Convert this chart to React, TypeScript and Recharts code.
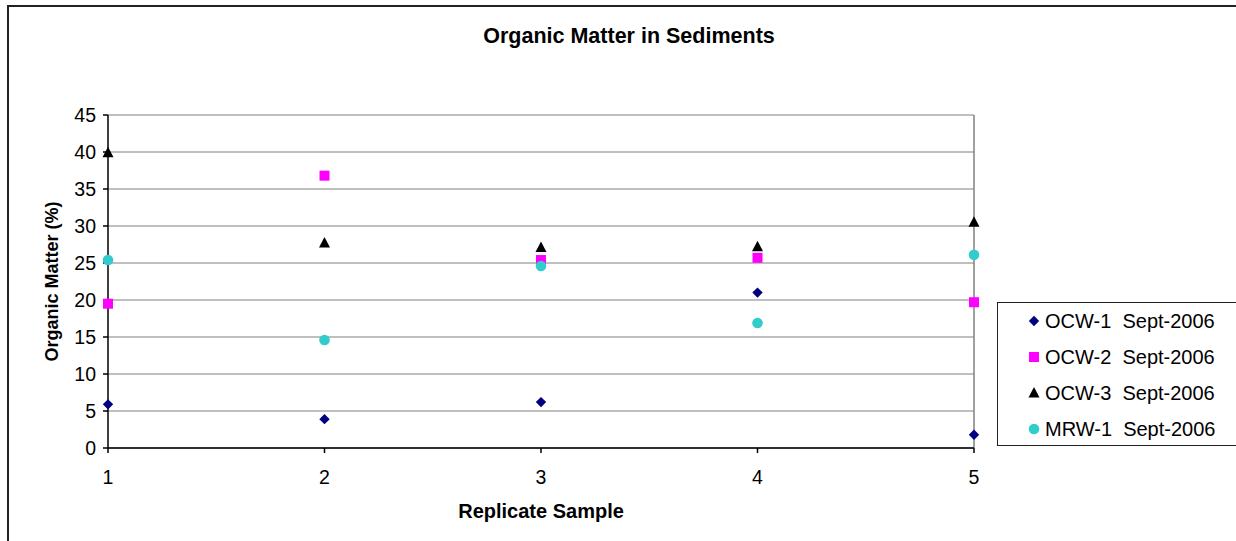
import React from "react";
import {
  ScatterChart,
  Scatter,
  XAxis,
  YAxis,
  CartesianGrid,
  ReferenceLine,
} from "recharts";

// #region Sample data
const replicates = [1, 2, 3, 4, 5];
const yTicks = [0, 5, 10, 15, 20, 25, 30, 35, 40, 45];

const ocw1 = [5.9, 3.9, 6.2, 21.0, 1.8];
const ocw2 = [19.5, 36.8, 25.4, 25.7, 19.7];
const ocw3 = [39.9, 27.7, 27.1, 27.2, 30.5];
const mrw1 = [25.4, 14.6, 24.6, 16.9, 26.1];

const toPoints = (vals: number[]) =>
  replicates.map((r, i) => ({ x: r, y: vals[i] }));

const series = [
  { name: "OCW-1  Sept-2006", data: toPoints(ocw1), color: "#000080", kind: "diamond" },
  { name: "OCW-2  Sept-2006", data: toPoints(ocw2), color: "#FF00FF", kind: "square" },
  { name: "OCW-3  Sept-2006", data: toPoints(ocw3), color: "#000000", kind: "triangle" },
  { name: "MRW-1  Sept-2006", data: toPoints(mrw1), color: "#33CCCC", kind: "circle" },
];
// #endregion

const FONT = "'Liberation Sans', Arial, sans-serif";

const Marker = ({ kind, cx, cy, color }: any) => {
  if (kind === "diamond")
    return <polygon points={`${cx},${cy - 5.2} ${cx + 5.2},${cy} ${cx},${cy + 5.2} ${cx - 5.2},${cy}`} fill={color} />;
  if (kind === "square")
    return <rect x={cx - 5} y={cy - 5} width={10} height={10} fill={color} />;
  if (kind === "triangle")
    return <polygon points={`${cx},${cy - 6} ${cx + 5.5},${cy + 4.5} ${cx - 5.5},${cy + 4.5}`} fill={color} />;
  return <circle cx={cx} cy={cy} r={5.3} fill={color} />;
};

const LegendBox = () => (
  <div
    style={{
      position: "absolute",
      left: 997,
      top: 302,
      border: "1.5px solid #222",
      width: 270,
      height: 144,
      boxSizing: "border-box",
      fontFamily: FONT,
      fontSize: 20,
      color: "#000",
    }}
  >
    {series.map((s) => (
      <div key={s.name} style={{ display: "flex", alignItems: "center", height: 36, whiteSpace: "pre" }}>
        <svg width={47} height={14} style={{ flex: "none" }}>
          <Marker kind={s.kind} cx={36} cy={7} color={s.color} />
        </svg>
        <span>{s.name}</span>
      </div>
    ))}
  </div>
);

const OrganicMatter = () => {
  return (
    <div
      style={{
        position: "absolute",
        left: 0,
        top: 0,
        width: 1236,
        height: 541,
        overflow: "hidden",
        background: "#fff",
      }}
    >
      <div
        style={{
          position: "absolute",
          left: 7,
          top: 5,
          width: 1300,
          height: 600,
          border: "2px solid #222",
        }}
      />
      <div
        style={{
          position: "absolute",
          left: 0,
          top: 24,
          width: 1258,
          textAlign: "center",
          fontFamily: FONT,
          fontWeight: "bold",
          fontSize: 21.5,
        }}
      >
        Organic Matter in Sediments
      </div>
      <ScatterChart
        width={1236}
        height={541}
        margin={{ top: 115, right: 262, left: 48, bottom: 63 }}
        style={{ position: "absolute", left: 0, top: 0 }}
      >
        <CartesianGrid horizontal vertical={false} stroke="#808080" strokeWidth={1} />
        <XAxis
          type="number"
          dataKey="x"
          domain={[1, 5]}
          ticks={replicates}
          interval={0}
          height={30}
          tickSize={5}
          tickMargin={17}
          stroke="#000"
          strokeWidth={1.5}
          tick={{ fill: "#000", fontSize: 19.5, fontFamily: FONT }}
          label={{
            value: "Replicate Sample",
            position: "insideBottom",
            offset: -40,
            style: { fill: "#000", fontWeight: "bold", fontSize: 20, fontFamily: FONT },
          }}
        />
        <YAxis
          type="number"
          dataKey="y"
          domain={[0, 45]}
          ticks={yTicks}
          interval={0}
          width={60}
          tickSize={5}
          tickMargin={7}
          stroke="#000"
          strokeWidth={1.5}
          tick={{ fill: "#000", fontSize: 19.5, fontFamily: FONT }}
          label={{
            value: "Organic Matter (%)",
            angle: -90,
            position: "insideLeft",
            offset: 4,
            style: { textAnchor: "middle", fill: "#000", fontWeight: "bold", fontSize: 18, fontFamily: FONT },
          }}
        />
        <ReferenceLine x={5} stroke="#808080" strokeWidth={1.5} />
        {series.map((s) => (
          <Scatter
            key={s.name}
            name={s.name}
            data={s.data}
            fill={s.color}
            isAnimationActive={false}
            shape={(p: any) => <Marker kind={s.kind} cx={p.cx} cy={p.cy} color={s.color} />}
          />
        ))}
      </ScatterChart>
      <LegendBox />
    </div>
  );
};

export default OrganicMatter;
